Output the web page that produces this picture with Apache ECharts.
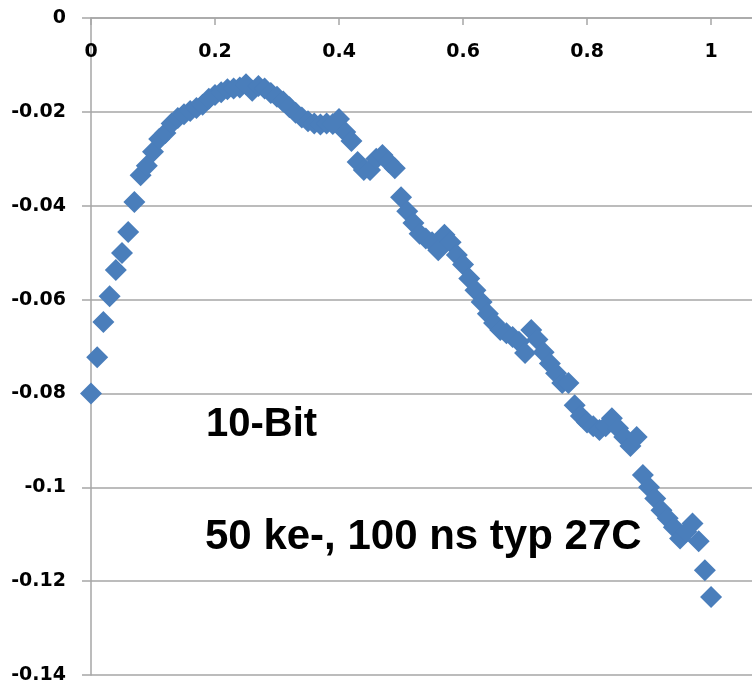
<!DOCTYPE html>
<html>
<head>
<meta charset="utf-8">
<script src="https://cdn.jsdelivr.net/npm/echarts@6/dist/echarts.min.js"></script>
<style>
html,body{margin:0;padding:0;background:#fff;}
#chart{width:752px;height:686px;}
</style>
</head>
<body>
<div id="chart"></div>
<script>
// Data
const xValues = [
  0.00,0.01,0.02,0.03,0.04,0.05,0.06,0.07,0.08,0.09,
  0.10,0.11,0.12,0.13,0.14,0.15,0.16,0.17,0.18,0.19,
  0.20,0.21,0.22,0.23,0.24,0.25,0.26,0.27,0.28,0.29,
  0.30,0.31,0.32,0.33,0.34,0.35,0.36,0.37,0.38,0.39,
  0.40,0.41,0.42,0.43,0.44,0.45,0.46,0.47,0.48,0.49,
  0.50,0.51,0.52,0.53,0.54,0.55,0.56,0.57,0.58,0.59,
  0.60,0.61,0.62,0.63,0.64,0.65,0.66,0.67,0.68,0.69,
  0.70,0.71,0.72,0.73,0.74,0.75,0.76,0.77,0.78,0.79,
  0.80,0.81,0.82,0.83,0.84,0.85,0.86,0.87,0.88,0.89,
  0.90,0.91,0.92,0.93,0.94,0.95,0.96,0.97,0.98,0.99,
  1.00
];
const yValues = [
  -0.0800,-0.0723,-0.0648,-0.0593,-0.0537,-0.0501,-0.0456,-0.0392,-0.0335,-0.0315,
  -0.0285,-0.0258,-0.0245,-0.0225,-0.0213,-0.0205,-0.0198,-0.0192,-0.0185,-0.0172,
  -0.0164,-0.0158,-0.0152,-0.0150,-0.0148,-0.0141,-0.0155,-0.0145,-0.0150,-0.0160,
  -0.0168,-0.0178,-0.0190,-0.0202,-0.0212,-0.0220,-0.0225,-0.0227,-0.0225,-0.0226,
  -0.0215,-0.0243,-0.0262,-0.0307,-0.0324,-0.0324,-0.0300,-0.0292,-0.0307,-0.0320,
  -0.0382,-0.0412,-0.0437,-0.0460,-0.0470,-0.0478,-0.0495,-0.0462,-0.0478,-0.0505,
  -0.0525,-0.0555,-0.0580,-0.0605,-0.0630,-0.0650,-0.0665,-0.0672,-0.0680,-0.0690,
  -0.0714,-0.0665,-0.0685,-0.0712,-0.0736,-0.0757,-0.0778,-0.0778,-0.0825,-0.0848,
  -0.0862,-0.0870,-0.0878,-0.0870,-0.0853,-0.0874,-0.0893,-0.0912,-0.0893,-0.0974,
  -0.1000,-0.1024,-0.1049,-0.1066,-0.1085,-0.1109,-0.1095,-0.1077,-0.1115,-0.1177,
  -0.1234
];
const xTicks = [0, 0.2, 0.4, 0.6, 0.8, 1];
const yTicks = [0, -0.02, -0.04, -0.06, -0.08, -0.1, -0.12, -0.14];
const annotation1 = "10-Bit";
const annotation2 = "50 ke-, 100 ns typ 27C";

const points = xValues.map((x, i) => [x, yValues[i]]);
const gray = '#a6a6a6';
const labelFont = {fontFamily: 'DejaVu Sans', fontWeight: 'bold', fontSize: 19, color: '#000'};

const chart = echarts.init(document.getElementById('chart'), null, {renderer: 'canvas'});
chart.setOption({
  animation: false,
  backgroundColor: '#fff',
  grid: {left: 91, top: 18, right: 0, bottom: 11, containLabel: false},
  xAxis: {
    type: 'value',
    position: 'top',
    min: 0,
    max: 1.066,
    interval: 0.2,
    axisLine: {show: true, onZero: false, lineStyle: {color: gray, width: 1.5}},
    axisTick: {show: true, inside: true, length: 7, lineStyle: {color: gray, width: 1.5}},
    axisLabel: Object.assign({
      inside: true, margin: 25, showMaxLabel: false,
      formatter: v => xTicks.some(t => Math.abs(t - v) < 1e-9) ? String(+v.toFixed(2)) : ''
    }, labelFont),
    splitLine: {show: false}
  },
  yAxis: {
    type: 'value',
    min: -0.14,
    max: 0,
    interval: 0.02,
    axisLine: {show: true, onZero: false, lineStyle: {color: gray, width: 1.5}},
    axisTick: {show: true, length: 9, lineStyle: {color: gray, width: 1.5}},
    axisLabel: Object.assign({
      margin: 25,
      formatter: v => {
        const t = yTicks.find(t => Math.abs(t - v) < 1e-9);
        return t === undefined ? '' : String(t);
      }
    }, labelFont),
    splitLine: {show: true, lineStyle: {color: gray, width: 1.5}}
  },
  series: [{
    type: 'scatter',
    data: points,
    symbol: 'diamond',
    symbolSize: 22,
    itemStyle: {color: '#4a7ebb', opacity: 1},
    silent: true
  }],
  graphic: [
    {type: 'text', left: 206, top: 405, silent: true,
     style: {text: annotation1, font: 'bold 40px "Liberation Sans", Arial, sans-serif', fill: '#000'}},
    {type: 'text', left: 205, top: 516, silent: true,
     style: {text: annotation2, font: 'bold 42px "Liberation Sans", Arial, sans-serif', fill: '#000'}}
  ]
});
</script>
</body>
</html>
